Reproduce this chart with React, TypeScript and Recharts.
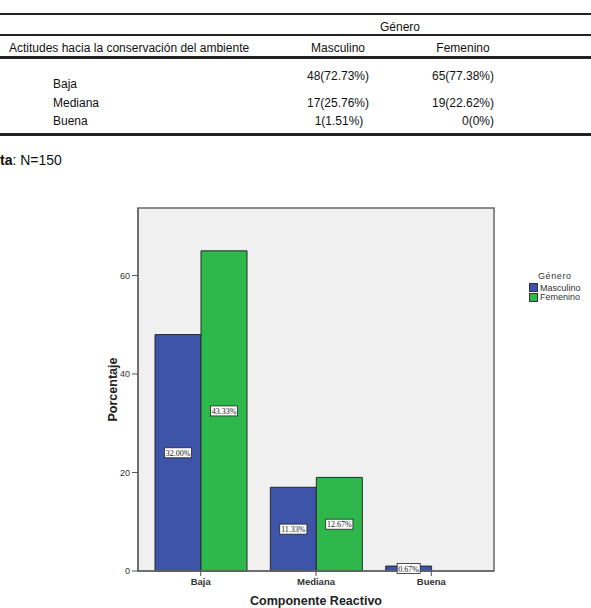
import React from "react"
import { BarChart, Bar, XAxis, YAxis, LabelList } from "recharts"

const categories = ["Baja", "Mediana", "Buena"]
const masculino = [48, 17, 1]
const femenino = [65, 19, 0]
const masculinoPct = ["32.00%", "11.33%", "0.67%"]
const femeninoPct = ["43.33%", "12.67%", ""]
const yTicks = [0, 20, 40, 60]

const tableRows = ["Baja", "Mediana", "Buena"]
const tableMasc = ["48(72.73%)", "17(25.76%)", "1(1.51%)"]
const tableFem = ["65(77.38%)", "19(22.62%)", "0(0%)"]

const BLUE = "#3d54a9"
const GREEN = "#2eb84b"
const SANS = "'Liberation Sans', Arial, sans-serif"

const data = categories.map((c, i) => ({
  cat: c,
  masculino: masculino[i],
  femenino: femenino[i],
  mPct: masculinoPct[i],
  fPct: femeninoPct[i],
}))

function T({ x, y, children, anchor = "start", size = 12, bold = false, color = "#111" }: any) {
  const shift = anchor === "middle" ? "-50%" : anchor === "end" ? "-100%" : "0"
  return (
    <div
      style={{
        position: "absolute",
        left: x,
        top: y,
        transform: `translate(${shift}, -50%)`,
        fontSize: size,
        fontWeight: bold ? "bold" : "normal",
        whiteSpace: "nowrap",
        lineHeight: 1,
        color,
      }}
    >
      {children}
    </div>
  )
}

function HLine({ y, x = 0, w = 591, h = 2 }: any) {
  return <div style={{ position: "absolute", left: x, top: y, width: w, height: h, background: "#222" }} />
}

function PctLabel(props: any) {
  const { x, y, width, height, value } = props
  if (!value) return null
  const cx = x + width / 2
  const cy = y + height / 2
  const w = String(value).length * 4.2 + 2
  return (
    <g>
      <rect x={cx - w / 2} y={cy - 5} width={w} height={10} fill="#fff" stroke="#222" strokeWidth={0.8} />
      <text x={cx} y={cy + 3} textAnchor="middle" fontSize={8} fontFamily="'Liberation Serif', serif" fill="#111">
        {value}
      </text>
    </g>
  )
}

const legendItems = [
  { name: "Masculino", color: BLUE },
  { name: "Femenino", color: GREEN },
]

export default function App() {
  return (
    <div style={{ position: "relative", width: 591, height: 608, background: "#fff", fontFamily: SANS, overflow: "hidden" }}>
      <style>{`body{margin:0}`}</style>

      <HLine y={13} />
      <T x={400} y={27} anchor="middle">Género</T>
      <HLine y={34} />
      <T x={9} y={48}>Actitudes hacia la conservación del ambiente</T>
      <T x={338} y={48} anchor="middle">Masculino</T>
      <T x={463} y={48} anchor="middle">Femenino</T>
      <HLine y={56} h={3} />
      <T x={53} y={84}>{tableRows[0]}</T>
      <T x={53} y={103}>{tableRows[1]}</T>
      <T x={53} y={121}>{tableRows[2]}</T>
      <T x={338} y={76} anchor="middle">{tableMasc[0]}</T>
      <T x={338} y={103} anchor="middle">{tableMasc[1]}</T>
      <T x={339} y={121} anchor="middle">{tableMasc[2]}</T>
      <T x={494} y={76} anchor="end">{tableFem[0]}</T>
      <T x={494} y={103} anchor="end">{tableFem[1]}</T>
      <T x={494} y={121} anchor="end">{tableFem[2]}</T>
      <HLine y={133} h={3} />
      <T x={0} y={160} size={14}>
        <b>ta</b>: N=150
      </T>

      <div style={{ position: "absolute", left: 0, top: 190 }}>
        <BarChart
          width={591}
          height={418}
          data={data}
          margin={{ top: 18, right: 97, left: 0, bottom: 0 }}
          barGap={0}
          barCategoryGap={12}
        >
          <rect x={138} y={18} width={356} height={363} fill="#f0f0f0" stroke="#666" strokeWidth={1.5} />
          <XAxis
            dataKey="cat"
            height={37}
            padding={{ left: 5, right: 5 }}
            tick={{ fontSize: 9.5, fontWeight: "bold", fill: "#333", fontFamily: SANS }}
            tickSize={5}
            tickLine={{ stroke: "#555" }}
            axisLine={{ stroke: "#666", strokeWidth: 1.5 }}
            label={{ value: "Componente Reactivo", position: "insideBottom", offset: 3, fontSize: 12.5, fontWeight: "bold", fill: "#222" }}
          />
          <YAxis
            width={138}
            domain={[0, 73.7]}
            ticks={yTicks}
            tickSize={6}
            tick={{ fontSize: 9, fill: "#333", fontFamily: SANS }}
            tickLine={{ stroke: "#555" }}
            axisLine={{ stroke: "#666", strokeWidth: 1.5 }}
            label={{ value: "Porcentaje", angle: -90, position: "center", dx: 44, fontSize: 12.5, fontWeight: "bold", fill: "#222" }}
          />
          <Bar dataKey="masculino" name="Masculino" fill={BLUE} stroke="#2a2a2a" strokeWidth={1} isAnimationActive={false}>
            <LabelList dataKey="mPct" content={PctLabel} />
          </Bar>
          <Bar dataKey="femenino" name="Femenino" fill={GREEN} stroke="#2a2a2a" strokeWidth={1} isAnimationActive={false}>
            <LabelList dataKey="fPct" content={PctLabel} />
          </Bar>
        </BarChart>
      </div>

      <div style={{ position: "absolute", left: 529, top: 271, color: "#333" }}>
        <div style={{ fontSize: 9, marginLeft: 9, marginBottom: 2, letterSpacing: 0.6 }}>Género</div>
        {legendItems.map((it) => (
          <div key={it.name} style={{ display: "flex", alignItems: "center", height: 9.5, fontSize: 9 }}>
            <span style={{ width: 7, height: 7, background: it.color, border: "1px solid #333", marginRight: 2, display: "inline-block" }} />
            {it.name}
          </div>
        ))}
      </div>
    </div>
  )
}
